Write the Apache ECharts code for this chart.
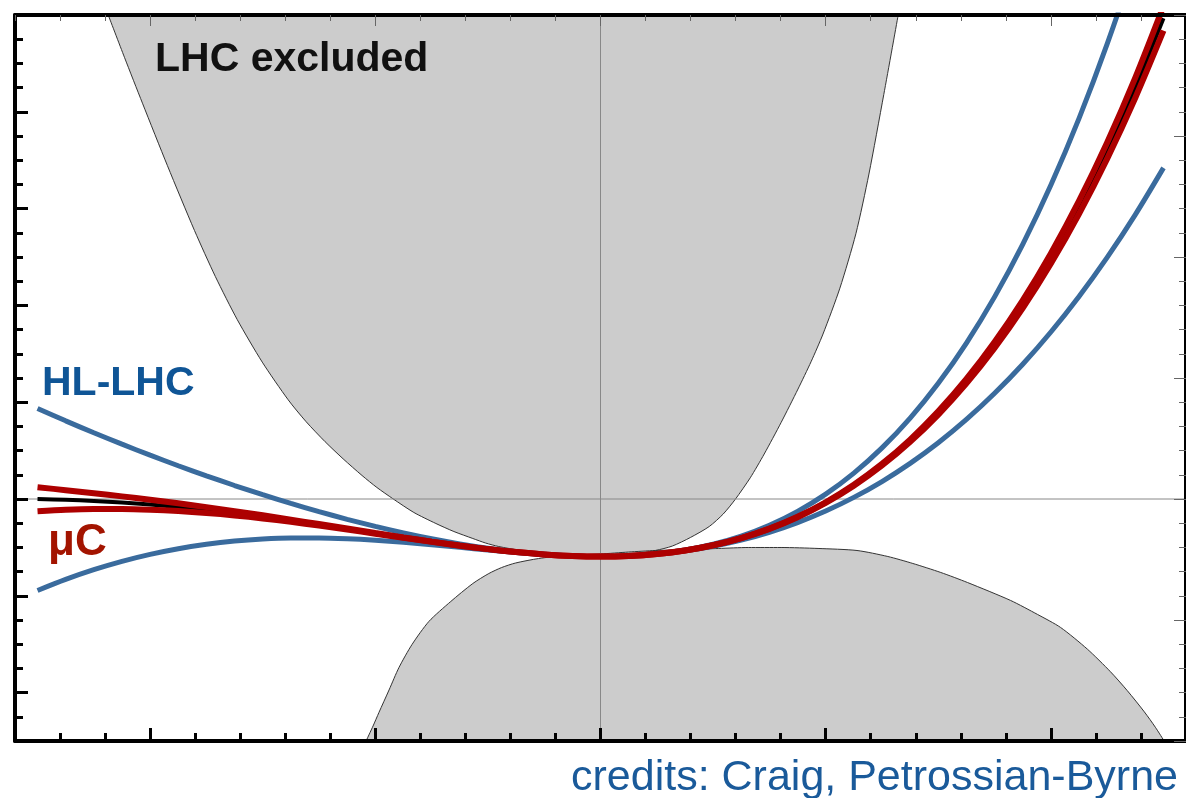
<!DOCTYPE html>
<html>
<head>
<meta charset="utf-8">
<script src="https://cdn.jsdelivr.net/npm/echarts@6/dist/echarts.min.js"></script>
<style>
  html, body { margin: 0; padding: 0; background: #ffffff; }
  #chart { width: 1186px; height: 798px; }
</style>
</head>
<body>
<div id="chart"></div>
<script>
// ---- axis ranges / ticks ----
const xMin = -2.6, xMax = 2.6;
const yMin = -2.5, yMax = 5;
const xMajorTicks = [-2, -1, 0, 1, 2];
const yMajorTicks = [-2, -1, 0, 1, 2, 3, 4, 5];

// ---- potential curves (sampled at common x values) ----
const xVals = [-2.5, -2.375, -2.25, -2.125, -2.0, -1.875, -1.75, -1.625, -1.5, -1.375, -1.25,
               -1.125, -1.0, -0.875, -0.75, -0.625, -0.5, -0.375, -0.25, -0.125, 0,
               0.125, 0.25, 0.375, 0.5, 0.625, 0.75, 0.875, 1.0, 1.125, 1.25,
               1.375, 1.5, 1.625, 1.75, 1.875, 2.0, 2.125, 2.25, 2.375, 2.5];
const blackY = [0, -0.0075, -0.0196, -0.0362, -0.0576, -0.0832, -0.1131, -0.1469, -0.1841, -0.2242, -0.2665,
                -0.3104, -0.3548, -0.3989, -0.4415, -0.4816, -0.5177, -0.5486, -0.5727, -0.5884, -0.594,
                -0.5878, -0.5677, -0.5318, -0.478, -0.404, -0.3074, -0.186, -0.037, 0.1421, 0.3542,
                0.602, 0.8885, 1.2168, 1.5901, 2.0118, 2.485, 3.0134, 3.6005, 4.25, 4.9658];
const redUpperY = [0.1218, 0.0915, 0.0601, 0.0271, -0.0079, -0.0449, -0.0841, -0.1254, -0.1685, -0.2132, -0.2591,
                   -0.3055, -0.3518, -0.3971, -0.4406, -0.4811, -0.5176, -0.5485, -0.5727, -0.5884, -0.594,
                   -0.5878, -0.5677, -0.5317, -0.4778, -0.4034, -0.3063, -0.184, -0.0336, 0.1475, 0.3622,
                   0.6137, 0.9051, 1.2396, 1.6208, 2.052, 2.537, 3.0797, 3.6836, 4.3532, 5.0924];
const redLowerY = [-0.1277, -0.1116, -0.1034, -0.1029, -0.1098, -0.1236, -0.1437, -0.1696, -0.2007, -0.236, -0.2746,
                   -0.3156, -0.3581, -0.4008, -0.4426, -0.482, -0.5179, -0.5486, -0.5727, -0.5884, -0.594,
                   -0.5878, -0.5677, -0.5319, -0.4782, -0.4045, -0.3085, -0.1879, -0.0403, 0.1369, 0.3462,
                   0.5903, 0.872, 1.1941, 1.5595, 1.9713, 2.4327, 2.9467, 3.5167, 4.146, 4.8381];
const blueUpperY = [0.9356, 0.8075, 0.6846, 0.5664, 0.4527, 0.3436, 0.2391, 0.1394, 0.0443, -0.0458, -0.1306,
                    -0.2098, -0.2832, -0.3503, -0.4105, -0.4634, -0.5082, -0.5446, -0.5714, -0.5882, -0.594,
                    -0.5879, -0.5689, -0.5361, -0.4884, -0.4245, -0.3434, -0.2437, -0.1241, 0.0166, 0.18,
                    0.3677, 0.5809, 0.8218, 1.0916, 1.3921, 1.7252, 2.0926, 2.4964, 2.9385, 3.4209];
const blueLowerY = [-0.945, -0.8306, -0.7303, -0.6441, -0.5719, -0.5133, -0.4679, -0.435, -0.414, -0.4037, -0.4033,
                    -0.4114, -0.4267, -0.4477, -0.4727, -0.4998, -0.5272, -0.5526, -0.5739, -0.5885, -0.594,
                    -0.5876, -0.5664, -0.5274, -0.4675, -0.3834, -0.2715, -0.1282, 0.0501, 0.2675, 0.528,
                    0.836, 1.1956, 1.6112, 2.088, 2.6302, 3.243, 3.9317, 4.7015, 5.558, 6.506];

// ---- LHC excluded regions (boundary curves) ----
const lhcUpperX = [-2.186, -2.114, -2.034, -1.923, -1.803, -1.71, -1.613, -1.502, -1.387, -1.307, -1.223,
                   -1.143, -1.059, -0.993, -0.922, -0.829, -0.731, -0.651, -0.567, -0.51, -0.452, -0.354,
                   -0.244, -0.12, 0, 0.124, 0.244, 0.319, 0.399, 0.483, 0.545, 0.598, 0.665, 0.727,
                   0.802, 0.877, 0.935, 0.988, 1.063, 1.134, 1.192, 1.258, 1.322];
const lhcUpperY = [5.0, 4.563, 4.089, 3.443, 2.774, 2.297, 1.853, 1.414, 1.025, 0.798, 0.592,
                   0.415, 0.243, 0.119, 0.003, -0.139, -0.253, -0.336, -0.408, -0.455, -0.491, -0.532,
                   -0.568, -0.594, -0.599, -0.579, -0.532, -0.486, -0.398, -0.284, -0.155, -0.005, 0.219, 0.465,
                   0.79, 1.136, 1.418, 1.704, 2.178, 2.74, 3.357, 4.179, 5.0];
const lhcLowerX = [-1.041, -1.01, -0.984, -0.939, -0.895, -0.837, -0.762, -0.665, -0.567, -0.496, -0.439,
                   -0.377, -0.275, -0.16, 0, 0.124, 0.244, 0.39, 0.523, 0.656, 0.802, 0.966,
                   1.139, 1.276, 1.387, 1.511, 1.63, 1.821, 1.941, 2.043, 2.162, 2.264, 2.339,
                   2.415, 2.464, 2.503];
const lhcLowerY = [-2.5, -2.345, -2.206, -1.973, -1.741, -1.503, -1.265, -1.059, -0.873, -0.77, -0.708,
                   -0.661, -0.615, -0.584, -0.568, -0.548, -0.532, -0.522, -0.511, -0.501, -0.501, -0.511,
                   -0.532, -0.594, -0.666, -0.759, -0.863, -1.048, -1.193, -1.327, -1.551, -1.783, -1.979,
                   -2.199, -2.358, -2.5];

// ---- labels ----
const labelExcluded = 'LHC excluded';
const labelHL = 'HL-LHC';
const labelMuC = 'μC';
const labelCredits = 'credits: Craig, Petrossian-Byrne';

const pairs = (xs, ys) => xs.map((x, i) => [x, ys[i]]);

const BLUE = '#3a6b9d';
const RED = '#ad0000';
const GRAY_FILL = '#cccccc';

const chart = echarts.init(document.getElementById('chart'), null, { renderer: 'canvas' });

function xAxisBase(extra) {
  return Object.assign({
    type: 'value', min: xMin, max: xMax, gridIndex: 0, z: 10,
    axisLabel: { show: false }, splitLine: { show: false }, minorSplitLine: { show: false }
  }, extra);
}
function yAxisBase(extra) {
  return Object.assign({
    type: 'value', gridIndex: 0, z: 10,
    axisLabel: { show: false }, splitLine: { show: false }, minorSplitLine: { show: false }
  }, extra);
}

function curve(name, ys, color, width, z) {
  return {
    name: name, type: 'line', z: z, data: pairs(xVals, ys), smooth: 0.3, showSymbol: false, silent: true,
    lineStyle: { color: color, width: width }
  };
}

const option = {
  animation: false,
  backgroundColor: '#ffffff',
  grid: { left: 15, top: 15, width: 1175, height: 726, containLabel: false, show: false },
  xAxis: [
    xAxisBase({
      position: 'bottom', interval: 0.2,
      axisLine: { show: true, onZero: false, lineStyle: { color: '#000', width: 4 } },
      axisTick: { show: true, inside: true, length: 8, lineStyle: { color: '#000', width: 3 } }
    }),
    xAxisBase({
      position: 'bottom',
      axisLine: { show: false, onZero: false },
      axisTick: { show: true, inside: true, length: 13, customValues: xMajorTicks, lineStyle: { color: '#000', width: 3 } }
    }),
    xAxisBase({
      position: 'top', interval: 0.2,
      axisLine: { show: true, onZero: false, lineStyle: { color: '#000', width: 4 } },
      axisTick: { show: true, inside: true, length: 6, lineStyle: { color: '#666', width: 1 } }
    }),
    xAxisBase({
      position: 'top',
      axisLine: { show: false, onZero: false },
      axisTick: { show: true, inside: true, length: 11, customValues: xMajorTicks, lineStyle: { color: '#666', width: 1 } }
    })
  ],
  yAxis: [
    yAxisBase({
      min: yMin, max: yMax, position: 'left', interval: 0.25,
      axisLine: { show: true, onZero: false, lineStyle: { color: '#000', width: 4 } },
      axisTick: { show: true, inside: true, length: 8, lineStyle: { color: '#000', width: 3 } }
    }),
    yAxisBase({
      min: yMin, max: yMax, position: 'left',
      axisLine: { show: false, onZero: false },
      axisTick: { show: true, inside: true, length: 13, customValues: yMajorTicks, lineStyle: { color: '#000', width: 3 } }
    }),
    yAxisBase({
      min: -2, max: 4, position: 'right', interval: 1,
      axisLine: { show: true, onZero: false, lineStyle: { color: '#000', width: 4 } },
      axisTick: { show: true, inside: true, length: 12, lineStyle: { color: '#666', width: 1 } },
      minorTick: { show: true, splitNumber: 5, length: 7, lineStyle: { color: '#666', width: 1 } }
    })
  ],
  series: [
    {
      name: 'LHC excluded (upper)', type: 'line', z: 1,
      data: pairs(lhcUpperX, lhcUpperY), smooth: 0.25, showSymbol: false, silent: true,
      lineStyle: { color: '#333', width: 1 },
      areaStyle: { color: GRAY_FILL, opacity: 1, origin: 'end' }
    },
    {
      name: 'LHC excluded (lower)', type: 'line', z: 1,
      data: pairs(lhcLowerX, lhcLowerY), smooth: 0.25, showSymbol: false, silent: true,
      lineStyle: { color: '#333', width: 1 },
      areaStyle: { color: GRAY_FILL, opacity: 1, origin: 'start' }
    },
    {
      name: 'zero-h', type: 'line', z: 2, data: [[xMin, 0], [xMax, 0]], showSymbol: false, silent: true,
      lineStyle: { color: '#888', width: 1 }
    },
    {
      name: 'zero-v', type: 'line', z: 2, data: [[0, yMin], [0, yMax]], showSymbol: false, silent: true,
      lineStyle: { color: '#888', width: 1 }
    },
    curve('SM', blackY, '#000', 4, 3),
    curve('HL-LHC upper', blueUpperY, BLUE, 5, 4),
    curve('HL-LHC lower', blueLowerY, BLUE, 5, 4),
    curve('muC upper', redUpperY, RED, 6, 5),
    curve('muC lower', redLowerY, RED, 6, 5)
  ],
  graphic: [
    { type: 'text', x: 155, y: 60, z: 100,
      style: { text: labelExcluded, font: 'bold 41px "Liberation Sans", Arial, sans-serif', fill: '#111',
               textAlign: 'left', textVerticalAlign: 'middle', align: 'left', verticalAlign: 'middle' } },
    { type: 'text', x: 42, y: 384, z: 100,
      style: { text: labelHL, font: 'bold 41px "Liberation Sans", Arial, sans-serif', fill: '#0f5596',
               textAlign: 'left', textVerticalAlign: 'middle', align: 'left', verticalAlign: 'middle' } },
    { type: 'text', x: 48, y: 543, z: 100,
      style: { text: labelMuC, font: 'bold 44px "Liberation Sans", Arial, sans-serif', fill: '#a31400',
               textAlign: 'left', textVerticalAlign: 'middle', align: 'left', verticalAlign: 'middle' } },
    { type: 'text', x: 1178, y: 778, z: 100,
      style: { text: labelCredits, font: '43px "Liberation Sans", Arial, sans-serif', fill: '#1a5a9a',
               textAlign: 'right', textVerticalAlign: 'middle', align: 'right', verticalAlign: 'middle' } }
  ]
};

chart.setOption(option);
</script>
</body>
</html>
